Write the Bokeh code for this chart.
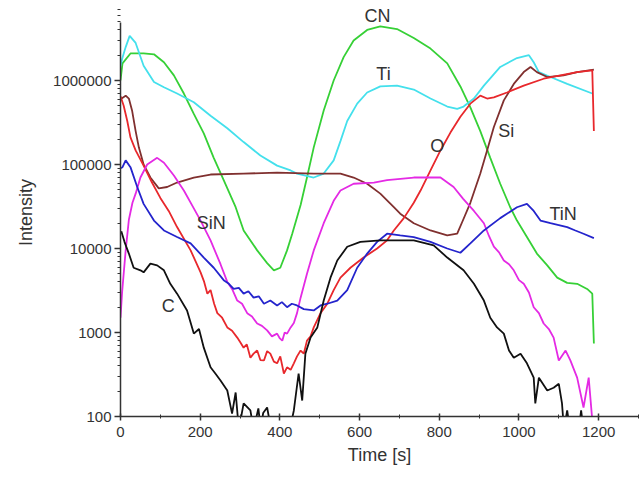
from bokeh.plotting import figure
from bokeh.models import Range1d, FixedTicker, CustomJSTickFormatter, Label
from bokeh.embed import file_html
from bokeh.resources import INLINE

# ---- data: time [s] and intensity ----
ti_t = [0, 4, 13, 23, 38, 58, 84, 109, 142, 184, 226, 268, 309, 351, 393, 427, 443, 485, 510, 535,
        552, 569, 594, 619, 652, 694, 736, 778, 820, 845, 861, 887, 912, 953, 995, 1025, 1037, 1050, 1079, 1121, 1184]
ti_i = [1.5e6, 1.8e6, 2.5e6, 3.4e6, 2.8e6, 1.5e6, 9.6e5, 8.3e5, 7.0e5, 5.5e5, 3.8e5, 2.7e5, 1.85e5, 1.28e5, 9.7e4, 8.5e4, 7.8e4, 7.0e4, 7.8e4, 1.12e5,
        1.9e5, 3.3e5, 5.3e5, 7.2e5, 8.5e5, 8.7e5, 7.8e5, 6.1e5, 4.9e5, 4.6e5, 4.9e5, 6.1e5, 8.7e5, 1.45e6, 1.85e6, 2.0e6, 1.65e6, 1.26e6, 1.1e6, 9.1e5, 7.0e5]

cn_t = [0, 5, 25, 58, 84, 109, 134, 159, 184, 209, 234, 259, 289, 309, 343, 368, 385, 401, 418, 431,
        452, 468, 485, 510, 535, 560, 585, 619, 652, 694, 736, 778, 820, 853, 878, 903, 928, 953, 978, 995,
        1020, 1045, 1071, 1096, 1121, 1146, 1171, 1184, 1188]
cn_i = [1.0e6, 1.6e6, 2.1e6, 2.1e6, 2.05e6, 1.65e6, 1.15e6, 7.0e5, 4.0e5, 2.35e5, 1.2e5, 6.5e4, 3.1e4, 1.64e4, 9.5e3, 6.7e3, 5.5e3, 5.9e3, 9.5e3, 1.5e4,
        3.3e4, 7.0e4, 1.6e5, 4.4e5, 1.0e6, 1.9e6, 3.0e6, 4.0e6, 4.4e6, 4.1e6, 3.2e6, 2.4e6, 1.6e6, 8.5e5, 4.8e5, 2.5e5, 1.2e5, 5.9e4, 3.1e4, 2.15e4,
        1.37e4, 8.7e3, 6.3e3, 4.5e3, 3.9e3, 3.8e3, 3.3e3, 2.9e3, 7.4e2]

o_t = [0, 8, 17, 25, 38, 58, 79, 100, 121, 142, 176, 201, 210, 218, 226, 235, 243, 255, 268, 280,
       293, 301, 309, 317, 326, 334, 343, 351, 360, 368, 376, 385, 393, 401, 410, 418, 427, 435, 443, 452,
       460, 468, 477, 485, 502, 519, 535, 552, 577, 610, 644, 669, 686, 711, 736,
       753, 778, 803, 828, 853, 878, 903, 920, 937, 970, 1012, 1062, 1104, 1146, 1184, 1188]
o_i = [6.5e5, 5.0e5, 3.3e5, 2.1e5, 1.47e5, 9.7e4, 6.1e4, 4.0e4, 2.8e4, 1.8e4, 9.5e3, 5.2e3, 4.0e3, 2.9e3, 3.2e3, 2.2e3, 1.7e3, 1.5e3, 1.15e3, 1.05e3,
       870, 760, 660, 720, 500, 560, 610, 470, 465, 600, 560, 450, 430, 520, 325, 385, 360, 430, 520, 610,
       560, 800, 900, 1.15e3, 1.7e3, 2.2e3, 3.2e3, 4.5e3, 5.9e3, 7.8e3, 1.0e4, 1.25e4, 1.64e4, 2.3e4, 3.5e4,
       4.9e4, 8.5e4, 1.47e5, 2.4e5, 3.7e5, 5.3e5, 6.6e5, 6.1e5, 6.3e5, 7.2e5, 8.7e5, 1.05e6, 1.15e6, 1.26e6, 1.32e6, 2.5e5]

si_t = [0, 13, 21, 29, 38, 46, 58, 75, 96, 117, 142, 184, 226, 309, 393, 485, 552, 585, 619, 652,
        686, 702, 736, 778, 820, 845, 860, 878, 903, 920, 937, 962, 987, 1012, 1029, 1045, 1071, 1112, 1146, 1188]
si_i = [6.0e5, 6.6e5, 6.1e5, 4.4e5, 2.5e5, 1.6e5, 1.0e5, 7.0e4, 5.2e4, 5.4e4, 6.1e4, 7.0e4, 7.6e4, 7.8e4, 8.0e4, 7.8e4, 7.8e4, 7.0e4, 5.9e4, 4.5e4,
        3.1e4, 2.6e4, 2.0e4, 1.64e4, 1.43e4, 1.5e4, 2.2e4, 3.5e4, 7.8e4, 1.47e5, 2.8e5, 5.8e5, 9.1e5, 1.26e6, 1.45e6, 1.26e6, 1.1e6, 1.15e6, 1.26e6, 1.35e6]

sin_t = [0, 4, 13, 21, 30, 38, 50, 67, 92, 109, 134, 159, 184, 201, 226, 251, 268, 280, 293, 305,
         318, 330, 343, 355, 368, 380, 393, 400, 406, 412, 418, 427, 435, 443, 452, 468, 485, 510, 535, 552,
         585, 636, 669, 736, 803, 836, 860, 887, 912, 925, 937, 950, 962, 975, 987, 1000, 1012, 1025, 1037, 1050,
         1062, 1075, 1087, 1100, 1117, 1129, 1146, 1162, 1175, 1184]
sin_i = [1.5e3, 3.0e3, 9.5e3, 2.2e4, 3.5e4, 4.5e4, 7.0e4, 1.0e5, 1.2e5, 1.05e5, 7.4e4, 4.9e4, 3.0e4, 2.15e4, 1.25e4, 6.5e3, 4.0e3, 3.3e3, 2.4e3, 2.2e3,
         1.7e3, 1.55e3, 1.28e3, 1.2e3, 1.06e3, 900, 970, 850, 800, 1.0e3, 970, 1.15e3, 1.3e3, 1.7e3, 2.6e3, 5.0e3, 9.5e3, 2.0e4, 3.7e4, 4.9e4,
         5.9e4, 6.1e4, 6.5e4, 7.0e4, 7.0e4, 5.4e4, 3.9e4, 2.8e4, 2.0e4, 1.4e4, 1.05e4, 9.0e3, 7.2e3, 6.5e3, 5.5e3, 4.2e3, 3.8e3, 3.0e3, 2.0e3, 1.7e3,
         1.28e3, 1.1e3, 870, 465, 610, 465, 290, 128, 290, 90]

tin_t = [0, 5, 13, 25, 42, 58, 84, 109, 142, 176, 209, 234, 259, 272, 284, 297, 309, 321, 334, 347,
         360, 376, 393, 405, 418, 430, 443, 460, 485, 502, 519, 544, 569, 594, 619, 644, 669, 702, 736, 778,
         820, 853, 878, 912, 953, 995, 1020, 1037, 1054, 1079, 1100, 1121, 1140, 1162, 1188]
tin_i = [9.0e4, 9.3e4, 1.12e5, 9.3e4, 5.4e4, 3.4e4, 2.15e4, 1.64e4, 1.37e4, 1.15e4, 7.8e3, 5.9e3, 4.2e3, 3.8e3, 3.3e3, 3.4e3, 2.9e3, 3.1e3, 2.6e3, 2.7e3,
         2.2e3, 2.4e3, 2.1e3, 2.3e3, 2.0e3, 2.2e3, 2.1e3, 1.9e3, 1.83e3, 2.1e3, 2.2e3, 2.4e3, 3.2e3, 5.9e3, 8.7e3, 1.2e4, 1.5e4, 1.43e4, 1.37e4, 1.2e4,
         1.0e4, 8.9e3, 1.15e4, 1.64e4, 2.3e4, 3.1e4, 3.4e4, 2.8e4, 2.15e4, 2.0e4, 1.9e4, 1.8e4, 1.65e4, 1.5e4, 1.33e4]

c_t = [2, 10, 21, 33, 50, 58, 75, 92, 109, 125, 142, 167, 184, 197, 209, 226, 238, 251, 268, 280,
       289, 297, 309, 326, 334, 346, 352, 358, 368, 378, 425, 435, 447, 456, 464, 477, 494, 510, 527, 544,
       569, 602, 652, 736, 786, 820, 861, 887, 912, 928, 945, 962, 975, 987, 1004, 1020, 1037, 1041, 1050, 1071,
       1087, 1100, 1108, 1113, 1121, 1128, 1150, 1156, 1162, 1170]
c_i = [1.6e4, 1.2e4, 8.7e3, 5.9e3, 5.5e3, 5.2e3, 6.6e3, 6.3e3, 5.5e3, 3.8e3, 2.9e3, 1.83e3, 970, 1.1e3, 660, 385, 325, 268, 204, 108,
       193, 70, 143, 118, 70, 125, 70, 110, 128, 70, 70, 118, 325, 155, 560, 870, 1.15e3, 2.4e3, 4.5e3, 7.2e3,
       1.05e4, 1.2e4, 1.25e4, 1.25e4, 1.09e4, 7.8e3, 5.5e3, 3.8e3, 2.4e3, 1.5e3, 1.15e3, 970, 610, 500, 560, 430, 290, 143, 290, 204,
       220, 245, 143, 70, 118, 70, 70, 118, 70, 70]

series = [
    (cn_t, cn_i, "#36d036"),
    (ti_t, ti_i, "#44e0ec"),
    (si_t, si_i, "#80302f"),
    (o_t, o_i, "#e8282c"),
    (sin_t, sin_i, "#e42ae4"),
    (tin_t, tin_i, "#2424cc"),
    (c_t, c_i, "#111111"),
]

labels = [("CN", 645, 5.8e6), ("Ti", 660, 1.21e6), ("O", 795, 1.68e5), ("Si", 968, 2.5e5),
          ("TiN", 1111, 2.6e4), ("SiN", 228, 2.0e4), ("C", 120, 2.04e3)]

x_major = [0, 200, 400, 600, 800, 1000, 1200]
x_minor = [100, 300, 500, 700, 900, 1100, 1300]
y_major = [100, 1000, 10000, 100000, 1000000]
y_minor = [m * d for d in [100, 1000, 10000, 100000, 1000000] for m in range(2, 10)]
y_axis_top = 4.9e6

FONT = "Liberation Sans"

p = figure(width=640, height=473, y_axis_type="log",
           x_range=Range1d(0, 1300), y_range=Range1d(100, 7.2e6),
           output_backend="svg", toolbar_location=None,
           min_border_left=120, min_border_right=2, min_border_top=8, min_border_bottom=57)
p.outline_line_color = None
p.grid.visible = False
p.background_fill_color = "white"
p.border_fill_color = "white"

for t, i, col in series:
    p.line(t, i, line_color=col, line_width=1.8)

for txt, x, y in labels:
    p.add_layout(Label(x=x, y=y, text=txt, text_align="center", text_baseline="middle",
                       text_font=FONT, text_font_size="18px", text_color="#333333"))

xa = p.xaxis[0]
xa.ticker = FixedTicker(ticks=x_major, minor_ticks=x_minor)
xa.axis_label = "Time [s]"
ya = p.yaxis[0]
ya.ticker = FixedTicker(ticks=y_major, minor_ticks=y_minor)
ya.formatter = CustomJSTickFormatter(code="return tick.toFixed(0);")
ya.axis_label = "Intensity"
ya.bounds = (100, y_axis_top)

for ax in (xa, ya):
    ax.axis_line_color = "#333333"
    ax.axis_line_width = 1.5
    ax.major_tick_line_color = "#333333"
    ax.minor_tick_line_color = "#333333"
    ax.major_tick_line_width = 1.5
    ax.minor_tick_line_width = 1
    ax.major_label_text_font = FONT
    ax.major_label_text_font_size = "15px"
    ax.major_label_text_color = "#333333"
    ax.axis_label_text_font = FONT
    ax.axis_label_text_font_size = "18px"
    ax.axis_label_text_font_style = "normal"
    ax.axis_label_text_color = "#333333"

xa.major_tick_in = 3
xa.major_tick_out = 4
xa.minor_tick_in = 2
xa.minor_tick_out = 2
xa.major_label_standoff = 6
xa.axis_label_standoff = 5

ya.major_tick_in = 0
ya.major_tick_out = 6
ya.minor_tick_in = 0
ya.minor_tick_out = 3
ya.major_label_standoff = 3
ya.axis_label_standoff = 14

open("out.html", "w").write(file_html(p, INLINE))
